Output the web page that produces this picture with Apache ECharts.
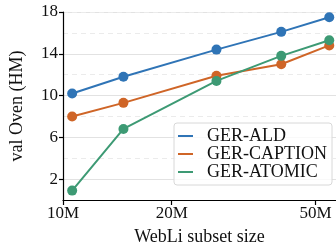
<!DOCTYPE html>
<html>
<head>
<meta charset="utf-8">
<script src="https://cdn.jsdelivr.net/npm/echarts@6/dist/echarts.min.js"></script>
<style>
  html, body { margin: 0; padding: 0; background: #fff; }
  #chart { width: 336px; height: 251px; }
</style>
</head>
<body>
<div id="chart"></div>
<script>
// WebLi subset size (millions)
var sizes = [10.6, 14.7, 26.6, 40.2, 54.6];
var ald = [10.2, 11.8, 14.4, 16.1, 17.5];
var caption = [8.0, 9.3, 11.9, 13.0, 14.8];
var atomic = [0.9, 6.8, 11.4, 13.8, 15.3];
var xTicks = [10, 20, 50];
var yTicks = [2, 6, 10, 14, 18];

var font = "Liberation Serif";

function pairs(ys) {
  return sizes.map(function (x, i) { return [x, ys[i]]; });
}

function line(name, ys, color) {
  return {
    name: name,
    type: "line",
    data: pairs(ys),
    symbol: "circle",
    symbolSize: 10,
    lineStyle: { width: 2, color: color },
    itemStyle: { color: color },
    emphasis: { disabled: true },
    z: 3,
  };
}

var myChart = echarts.init(document.getElementById("chart"));
var option = {
  animation: false,
  grid: { left: 57, right: 0, top: 12, bottom: 51 },
  legend: {
    right: 4,
    top: 123,
    orient: "vertical",
    itemWidth: 15,
    itemHeight: 2,
    itemGap: 0,
    padding: [4, 5, 4, 4],
    borderColor: "#d8d8d8",
    borderWidth: 1,
    borderRadius: 3,
    backgroundColor: "rgba(255,255,255,0.8)",
    icon: "rect",
    textStyle: { fontFamily: font, fontSize: 18, lineHeight: 18, color: "#111", padding: [0, 0, 0, 9] },
    data: ["GER-ALD", "GER-CAPTION", "GER-ATOMIC"],
  },
  xAxis: {
    type: "log",
    min: 10,
    max: 57,
    name: "WebLi subset size",
    nameLocation: "middle",
    nameGap: 28,
    nameTextStyle: { fontFamily: font, fontSize: 18, color: "#111" },
    axisLine: { lineStyle: { color: "#000", width: 1.2 } },
    axisTick: { length: 5, lineStyle: { color: "#000", width: 1.2 }, customValues: xTicks },
    axisLabel: {
      customValues: xTicks,
      fontFamily: font,
      fontSize: 17,
      color: "#111",
      margin: 5,
      formatter: function (v) { return v + "M"; },
    },
    splitLine: { show: false },
    minorTick: { show: false },
  },
  yAxis: [
    {
      type: "value",
      min: 0,
      max: 18,
      name: "val Oven (HM)",
      nameLocation: "middle",
      nameGap: 37,
      nameTextStyle: { fontFamily: font, fontSize: 18, color: "#111" },
      axisLine: { show: true, lineStyle: { color: "#000", width: 1.2 } },
      axisTick: { show: true, length: 4, lineStyle: { color: "#000", width: 1.2 }, customValues: yTicks },
      axisLabel: { customValues: yTicks, fontFamily: font, fontSize: 17, color: "#111", margin: 5 },
      splitLine: { show: true, lineStyle: { color: "#e2e2e2", width: 1.2 } },
    },
    {
      type: "value",
      min: 0,
      max: 18,
      interval: 4,
      position: "left",
      axisLine: { show: false },
      axisTick: { show: false },
      axisLabel: { show: false },
      splitLine: { show: true, lineStyle: { color: "#ebebeb", width: 1.2, type: [5, 4] } },
    },
  ],
  series: [
    line("GER-ALD", ald, "#2f74b6"),
    line("GER-CAPTION", caption, "#cf6527"),
    line("GER-ATOMIC", atomic, "#3d9a74"),
  ],
};

option && myChart.setOption(option);
</script>
</body>
</html>
